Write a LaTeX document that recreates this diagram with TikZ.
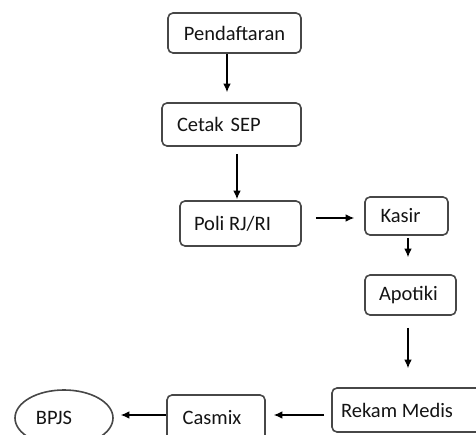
\documentclass[tikz,border=0pt]{standalone}
\usepackage{fontspec}
\setmainfont{Carlito}
\usetikzlibrary{arrows.meta,shapes.geometric}
\tikzset{
  box/.style={draw=black!72, line width=1.6pt, rounded corners=5pt, inner sep=0pt,
    text=black!92, font=\fontsize{20.5}{24}\selectfont},
  arr/.style={-{Latex[length=8.5pt,width=7.5pt]}, line width=1.2pt, black}
}
\begin{document}
\begin{tikzpicture}[x=1pt,y=1pt]
				\clip (0,0) rectangle (476,435);
				\useasboundingbox (0,0) rectangle (476,435);
				% Draw boxes
				\node[box, minimum width=133pt, minimum height=40pt] (pend) at (234.5,402) {Pendaftaran};
				\node[box, minimum width=139pt, minimum height=43pt, text width=109pt, align=left] (cetak) at (231.5,310.5) {Cetak SEP};
				\node[box, minimum width=121pt, minimum height=45pt] (poli) at (240.5,211.5) {\hspace*{-16pt}Poli RJ/RI};
				\node[box, minimum width=83pt, minimum height=38pt] (kasir) at (406.5,219) {\hspace*{-12pt}Kasir};
				\node[box, minimum width=91pt, minimum height=40pt] (apotik) at (410.5,140) {\hspace*{-4pt}Apotiki};
				\node[box, minimum width=150pt, minimum height=44pt] (rekam) at (407,25) {\hspace*{-20pt}Rekam Medis};
				\node[box, minimum width=98pt, minimum height=45pt] (casmix) at (216,17.5) {\hspace*{-8pt}Casmix};
				\node[box, ellipse, minimum width=98pt, minimum height=56pt] (bpjs) at (64,17) {\hspace*{-20pt}BPJS};
				% Draw arrows
				\draw[arr, shorten >=10pt] ([xshift=-7.5pt]pend.south) -- ([xshift=-4.5pt]cetak.north);
				\draw[arr, shorten <=7pt, shorten >=1pt] ([xshift=5.5pt]cetak.south) -- ([xshift=-3.5pt]poli.north);
				\draw[arr, shorten <=14pt, shorten >=10pt] ([yshift=5.5pt]poli.east) -- ([yshift=-2pt]kasir.west);
				\draw[arr, shorten <=2pt, shorten >=17pt] ([xshift=1.5pt]kasir.south) -- ([xshift=-2.5pt]apotik.north);
				\draw[arr, shorten <=12pt, shorten >=19pt] ([xshift=-2.5pt]apotik.south) -- ([xshift=1pt]rekam.north);
				\draw[arr, shorten <=7pt, shorten >=8pt] ([yshift=-5pt]rekam.west) -- ([yshift=2.5pt]casmix.east);
				\draw[arr, shorten >=7pt] ([yshift=2.5pt]casmix.west) -- ([yshift=3pt]bpjs.east);
			\end{tikzpicture}
\end{document}
